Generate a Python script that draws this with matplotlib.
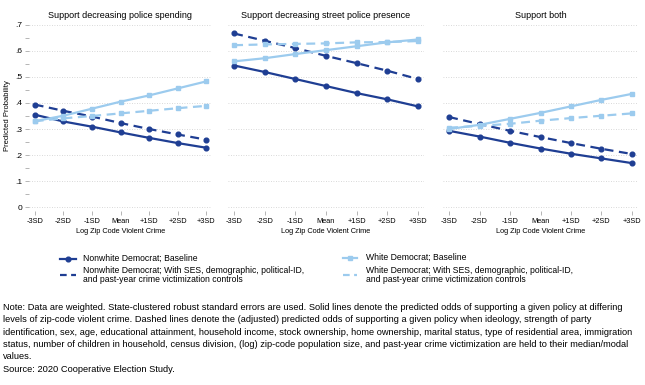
import matplotlib.pyplot as plt
import numpy as np

plt.rcParams['font.family'] = ['Liberation Sans', 'DejaVu Sans']

# x positions: -3SD .. +3SD
xlabels = ["-3SD", "-2SD", "-1SD", "Mean", "+1SD", "+2SD", "+3SD"]
x = np.arange(len(xlabels))

titles = ["Support decreasing police spending",
          "Support decreasing street police presence",
          "Support both"]

# predicted probabilities
nonwhite_base = [
    [.355, .329, .309, .287, .266, .246, .228],
    [.544, .519, .492, .465, .438, .414, .387],
    [.293, .271, .247, .225, .205, .187, .169],
]
nonwhite_adj = [
    [.394, .370, .348, .323, .300, .279, .259],
    [.667, .639, .611, .581, .553, .524, .492],
    [.346, .319, .293, .269, .246, .224, .204],
]
white_base = [
    [.330, .351, .378, .405, .429, .456, .483],
    [.560, .572, .588, .603, .618, .633, .644],
    [.300, .316, .339, .362, .387, .412, .435],
]
white_adj = [
    [.330, .341, .350, .360, .370, .380, .389],
    [.622, .625, .627, .629, .633, .634, .638],
    [.305, .312, .320, .332, .342, .351, .360],
]

DARK = "#1f3e93"
LIGHT = "#9ccbee"
W, H = 645, 385

fig = plt.figure(figsize=(W / 100, H / 100), dpi=100)

# axes pixel boxes (left, right)
boxes = [(29, 212), (228, 424), (443, 638)]
top, bottom = 21, 211

for i, (l, r) in enumerate(boxes):
    ax = fig.add_axes([l / W, 1 - bottom / H, (r - l) / W, (bottom - top) / H])
    ax.plot(x, nonwhite_base[i], color=DARK, lw=1.6, marker="o", ms=3.4)
    ax.plot(x, nonwhite_adj[i], color=DARK, lw=1.6, ls=(0, (4, 2.5)), marker="o", ms=3.4)
    ax.plot(x, white_base[i], color=LIGHT, lw=1.6, marker="s", ms=3.4)
    ax.plot(x, white_adj[i], color=LIGHT, lw=1.6, ls=(0, (4, 2.5)), marker="s", ms=3.4)

    ax.set_xlim(-0.2, 6.2)
    ax.set_ylim(-0.015, 0.715)
    for s in ax.spines.values():
        s.set_visible(False)
    for g in np.arange(0, 0.71, 0.1):
        ax.axhline(g, color="#cccccc", lw=0.6, ls=(0, (1, 2)), zorder=0)

    ax.set_xticks(x)
    ax.set_xticklabels(xlabels, fontsize=5.3)
    ax.tick_params(axis="x", length=3, width=0.5, color="#999999", pad=2)
    ax.set_xlabel("Log Zip Code Violent Crime", fontsize=5.3, labelpad=2)
    ax.set_title(titles[i], fontsize=6.5, pad=2)

    if i == 0:
        ax.set_yticks(np.arange(0, 0.71, 0.1))
        ax.set_yticklabels(["0", ".1", ".2", ".3", ".4", ".5", ".6", ".7"], fontsize=6)
        ax.set_yticks(np.arange(0.05, 0.7, 0.1), minor=True)
        ax.tick_params(axis="y", which="both", length=3, width=0.5, color="#999999", pad=2)
        ax.set_ylabel("Predicted Probability", fontsize=5.5, labelpad=3)
    else:
        ax.set_yticks([])

# legend
lax = fig.add_axes([0, 0, 1, 1])
lax.set_xlim(0, W)
lax.set_ylim(H, 0)
lax.axis("off")

legend_items = [
    (60, 76, 83, 258.5, DARK, "-", "o", "Nonwhite Democrat; Baseline"),
    (60, 76, 83, 275, DARK, (0, (3, 2)), None,
     "Nonwhite Democrat; With SES, demographic, political-ID,\nand past-year crime victimization controls"),
    (343, 357, 366, 257.5, LIGHT, "-", "s", "White Democrat; Baseline"),
    (343, 357, 366, 275, LIGHT, (0, (3, 2)), None,
     "White Democrat; With SES, demographic, political-ID,\nand past-year crime victimization controls"),
]
for x0, x1, tx, ly, c, ls, mk, txt in legend_items:
    lax.plot([x0, x1], [ly, ly], color=c, lw=1.6, ls=ls)
    if mk:
        lax.plot([(x0 + x1) / 2], [ly], color=c, marker=mk, ms=3.4)
    lax.text(tx, ly, txt, fontsize=6.25, va="center", ha="left", linespacing=1.0)

note = ("Note: Data are weighted. State-clustered robust standard errors are used. Solid lines denote the predicted odds of supporting a given policy at differing\n"
        "levels of zip-code violent crime. Dashed lines denote the (adjusted) predicted odds of supporting a given policy when ideology, strength of party\n"
        "identification, sex, age, educational attainment, household income, stock ownership, home ownership, marital status, type of residential area, immigration\n"
        "status, number of children in household, census division, (log) zip-code population size, and past-year crime victimization are held to their median/modal\n"
        "values.\n"
        "Source: 2020 Cooperative Election Study.")
lax.text(3, 303, note, fontsize=6.7, va="top", ha="left", linespacing=1.48)

fig.savefig("out.png", dpi=100, facecolor="white")
